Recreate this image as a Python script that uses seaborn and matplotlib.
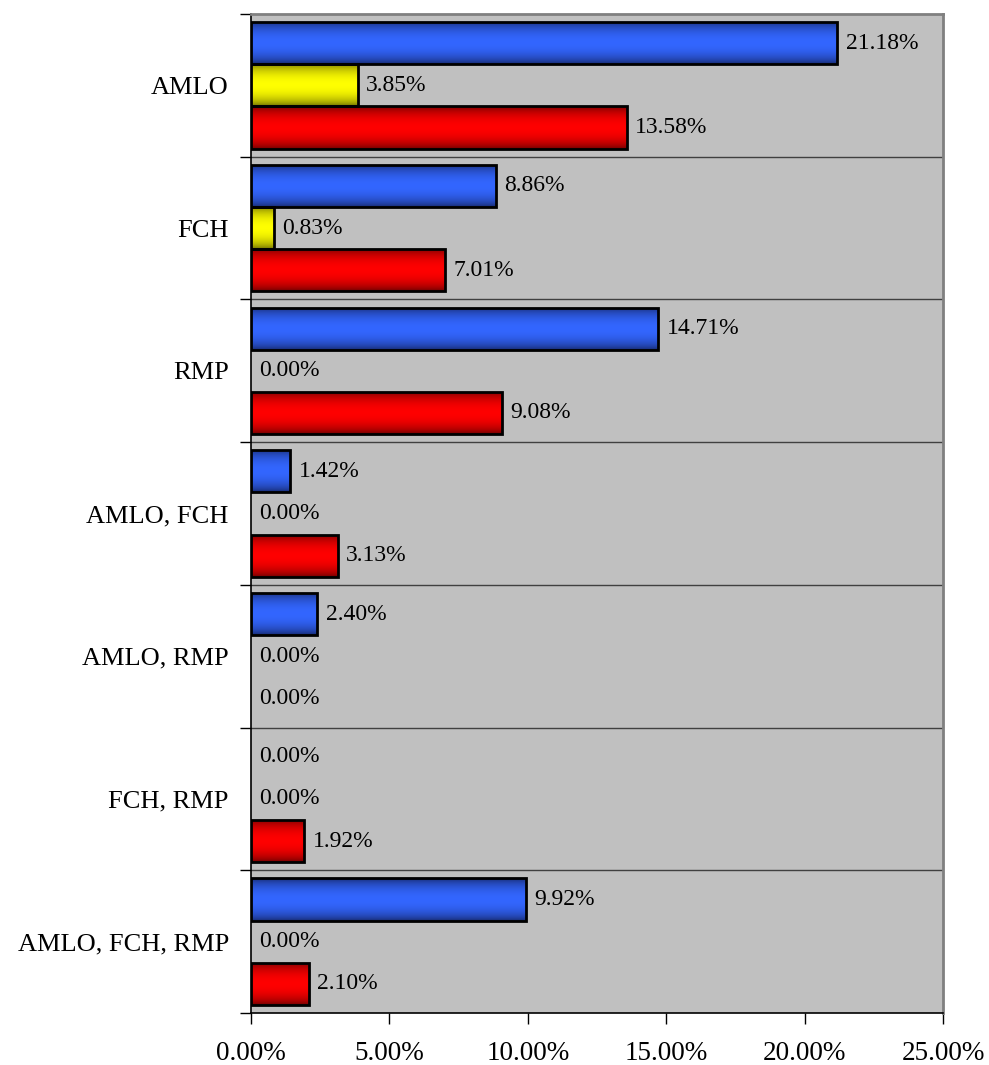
import numpy as np
import pandas as pd
import matplotlib
matplotlib.use("Agg")
import matplotlib.pyplot as plt
import seaborn as sns
from matplotlib.ticker import FixedLocator, FuncFormatter

categories = ["AMLO", "FCH", "RMP", "AMLO, FCH", "AMLO, RMP", "FCH, RMP", "AMLO, FCH, RMP"]
series_names = ["Serie 1", "Serie 2", "Serie 3"]
serie1 = [21.18, 8.86, 14.71, 1.42, 2.40, 0.00, 9.92]
serie2 = [3.85, 0.83, 0.00, 0.00, 0.00, 0.00, 0.00]
serie3 = [13.58, 7.01, 9.08, 3.13, 0.00, 1.92, 2.10]
xticks = [0, 5, 10, 15, 20, 25]

center_colors = [(0.20, 0.40, 1.0), (1.0, 1.0, 0.0), (1.0, 0.0, 0.0)]
edge_colors = [(0.08, 0.15, 0.40), (0.40, 0.40, 0.0), (0.40, 0.0, 0.0)]

df = pd.DataFrame({
    "cat": categories * 3,
    "serie": sum([[s] * len(categories) for s in series_names], []),
    "val": serie1 + serie2 + serie3,
})

sns.set_theme(style="white")
plt.rcParams["font.family"] = ["Liberation Serif", "DejaVu Serif"]
plt.rcParams["text.color"] = "black"
plt.rcParams["xtick.color"] = "black"
plt.rcParams["ytick.color"] = "black"

fig = plt.figure(figsize=(9.89, 10.65), dpi=100)
ax = fig.add_axes([251 / 989, 52 / 1065, (943 - 251) / 989, (1013 - 14) / 1065])
ax.set_facecolor("#c0c0c0")

sns.barplot(data=df, y="cat", x="val", hue="serie", orient="h", order=categories,
            hue_order=series_names, palette=center_colors, width=0.885, gap=0,
            edgecolor="black", linewidth=2, legend=False, ax=ax, saturation=1)

ax.set_xlim(0, 25)
ax.set_ylim(len(categories) - 0.5, -0.5)

# gradient fill for bars
t = np.linspace(0, 1, 64)
prof = np.sin(np.pi * t) ** 0.6
for ci, cont in enumerate(ax.containers):
    c0 = np.array(edge_colors[ci])
    c1 = np.array(center_colors[ci])
    grad = c0[None, :] + (c1 - c0)[None, :] * prof[:, None]
    img = grad[:, None, :]
    for p in cont.patches:
        w = p.get_width()
        if w <= 0:
            p.set_visible(False)
            continue
        x0, y0 = p.get_x(), p.get_y()
        h = p.get_height()
        im = ax.imshow(img, extent=[x0, x0 + w, y0 + h, y0], aspect="auto",
                       interpolation="bilinear", zorder=p.get_zorder() - 0.1)
        im.set_clip_path(p)
        p.set_facecolor("none")
    vals = [serie1, serie2, serie3][ci]
    ax.bar_label(cont, labels=[f"{v:.2f}%" for v in vals], padding=6,
                 fontsize=17, color="black")

ax.set_xlim(0, 25)
ax.set_ylim(len(categories) - 0.5, -0.5)

# category separators
for b in np.arange(0.5, len(categories) - 0.5, 1):
    ax.axhline(b, color="#404040", lw=1, zorder=0.5)

ax.set_xticks(xticks)
ax.xaxis.set_major_formatter(FuncFormatter(lambda v, p: f"{v:.2f}%"))
ax.tick_params(axis="x", direction="out", length=8, width=1, color="black",
               labelsize=19.5, pad=12, bottom=True, labelcolor="black")
ax.set_yticks(range(len(categories)))
ax.set_yticklabels(categories)
ax.yaxis.set_minor_locator(FixedLocator(np.arange(-0.5, len(categories), 1)))
ax.tick_params(axis="y", which="major", length=0, labelsize=19, pad=16, left=False,
               labelcolor="black")
ax.tick_params(axis="y", which="minor", direction="out", length=8, width=1,
               color="black", left=True)
ax.set_xlabel("")
ax.set_ylabel("")

for s in ["left", "bottom"]:
    ax.spines[s].set_color("black")
    ax.spines[s].set_linewidth(1.2)
for s in ["top", "right"]:
    ax.spines[s].set_color("#808080")
    ax.spines[s].set_linewidth(2)
    ax.spines[s].set_visible(True)

fig.savefig("out.png", dpi=100, facecolor="white")
